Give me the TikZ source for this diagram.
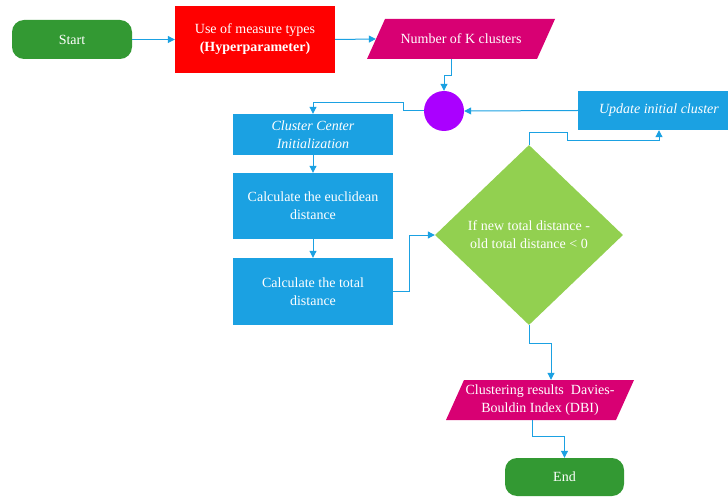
\documentclass[tikz,border=0pt]{standalone}
\usepackage{fontspec}
\setmainfont{Liberation Serif}
\usetikzlibrary{calc,shapes.geometric,arrows.meta}
\definecolor{termgreen}{HTML}{339933}
\definecolor{measred}{HTML}{FF0000}
\definecolor{iomagenta}{HTML}{D80073}
\definecolor{hubviolet}{HTML}{AA00FF}
\definecolor{procblue}{HTML}{1BA1E2}
\definecolor{testgreen}{HTML}{92D050}
\definecolor{linkblue}{HTML}{1BA1E2}
\tikzset{
	boxtext/.style={text=white, font=\fontsize{14}{18}\selectfont, align=center, inner sep=0pt},
	terminal/.style={boxtext, rectangle, rounded corners=12pt, fill=termgreen, minimum width=120pt, minimum height=39pt},
	process/.style={boxtext, rectangle, fill=procblue, minimum width=160pt},
	iotext/.style={boxtext, rectangle, minimum width=170pt, minimum height=40pt},
	decision/.style={boxtext, diamond, fill=testgreen, minimum width=188pt, minimum height=180pt},
	flow/.style={draw=linkblue, line width=1pt, -{Triangle[length=7pt,width=7pt]}}
}
\def\iobox(#1,#2)#3#4{\fill[iomagenta] (#1-76,#2-20) -- (#1+94,#2-20) -- (#1+76,#2+20) -- (#1-94,#2+20) -- cycle;
	\node[iotext] (#3) at (#1,#2) {#4};}

\begin{document}
\begin{tikzpicture}[x=1pt, y=-1pt]
			%%%%% START %%%%%
			
			\clip (0, 0) rectangle (728, 497);
			
			\node[terminal] (start) at (72, 39.5) {Start};
			\node[boxtext, fill=measred, minimum width=160pt, minimum height=67pt] (measure) at (255, 39.5) {Use of measure types\\\textbf{(Hyperparameter)}};
			\iobox(461,39){nk}{Number of K clusters}
			
			\node[circle, fill=hubviolet, minimum size=40pt, inner sep=0pt] (hub) at (444, 111) {};
			\node[process, minimum width=162pt, minimum height=39pt] (update) at (659, 110.5) {\textit{Update initial cluster}};
			
			\node[process, minimum height=41pt] (ccinit) at (313, 134.5) {\textit{Cluster Center}\\\textit{Initialization}};
			\node[process, minimum height=66pt] (euclid) at (313, 206) {Calculate the euclidean\\distance};
			\node[process, minimum height=67pt] (total) at (313, 291.5) {Calculate the total\\distance};
			
			\node[decision] (check) at (529, 235) {If new total distance -\\old total distance < 0};
			
			\iobox(540,400){dbi}{Clustering results \ Davies-\\Bouldin Index (DBI)}
			\node[terminal, minimum width=119pt, minimum height=38pt] (end) at (564.5, 477) {End};
			
			\draw[flow] (start.east) -- (measure.west);
			\draw[flow] (measure.east) -- (nk.west);
			\draw[flow] ($(nk.south)+(-10,0)$) -- ++(0, 16) -| (hub.north);
			\draw[flow] (update.west) -- (hub.east);
			\draw[flow] (hub.west) -- ++(-20, 0) -- ++(0, -8) -| (ccinit.north);
			\draw[flow] (ccinit.south) -- (euclid.north);
			\draw[flow] (euclid.south) -- (total.north);
			\draw[flow] (total.east) -- ++(16, 0) |- (check.west);
			\draw[flow] (check.north) -- ++(0, -12) -- ++(38, 0) -- ++(0, 8) -| (update.south);
			\draw[flow] (check.south) -- ++(0, 18) -| ($(dbi.north)+(11,0)$);
			\draw[flow] ($(dbi.south)+(-8,0)$) -- ++(0, 16) -| (end.north);
			
			%%%%% END %%%%%
\end{tikzpicture}
\end{document}
